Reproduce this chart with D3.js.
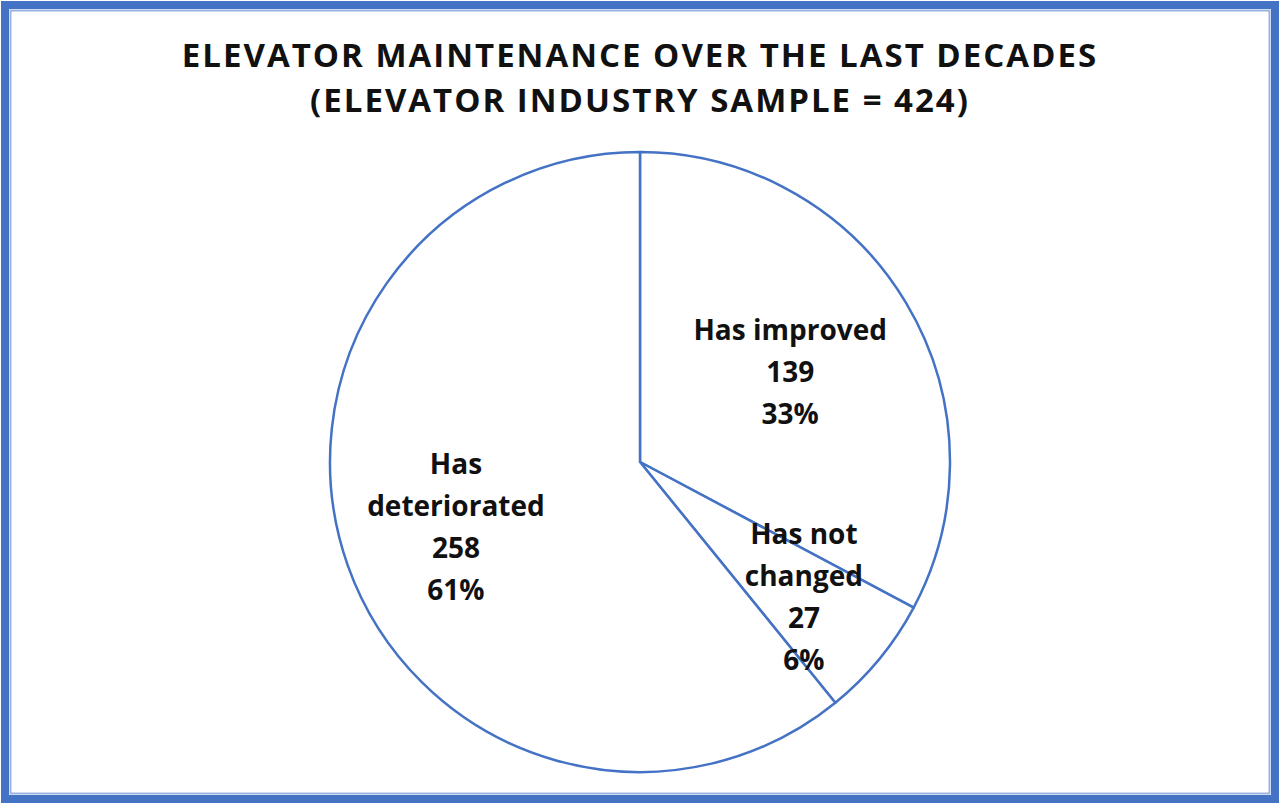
<!DOCTYPE html>
<html>
<head>
<meta charset="utf-8">
<script src="https://cdn.jsdelivr.net/npm/d3@7"></script>
<style>
  body { margin: 0; background: #fff; }
  svg { display: block; }
</style>
</head>
<body>
<script>
// chart data
var categories = ["Has improved", "Has not changed", "Has deteriorated"];
var counts = [139, 27, 258];
var percents = ["33%", "6%", "61%"];
var titleLines = ["ELEVATOR MAINTENANCE OVER THE LAST DECADES", "(ELEVATOR INDUSTRY SAMPLE = 424)"];

var w = 1280, h = 804;
var blue = "#4472C4";
var cx = 640, cy = 462, r = 310;
// where each label sits, as a share of the radius
var labelPos = [0.565, 0.685, 0.63];

var svg = d3.select("body").append("svg")
    .attr("width", w)
    .attr("height", h);

// frame
svg.append("rect")
    .attr("x", 5).attr("y", 5)
    .attr("width", w - 10).attr("height", h - 10)
    .attr("fill", "none")
    .attr("stroke", blue)
    .attr("stroke-width", 8);
svg.append("rect")
    .attr("x", 10.5).attr("y", 10.5)
    .attr("width", w - 21).attr("height", h - 21)
    .attr("fill", "none")
    .attr("stroke", "#9bb3e0")
    .attr("stroke-width", 2);

// title
svg.selectAll("text.title")
    .data(titleLines)
    .enter()
    .append("text")
    .attr("class", "title")
    .attr("x", w / 2)
    .attr("y", function(d, i) { return 67 + i * 45; })
    .attr("text-anchor", "middle")
    .style("font-family", "'Open Sans', sans-serif")
    .style("font-weight", "bold")
    .style("font-size", "33px")
    .style("letter-spacing", "2px")
    .attr("fill", "#111")
    .text(function(d) { return d; });

var pie = d3.pie().sort(null).value(function(d) { return d; });
var arcs = pie(counts);
var arc = d3.arc().innerRadius(0).outerRadius(r);

var g = svg.append("g")
    .attr("transform", "translate(" + cx + "," + cy + ")");

g.selectAll("path")
    .data(arcs)
    .enter()
    .append("path")
    .attr("d", arc)
    .attr("fill", "#fff")
    .attr("stroke", blue)
    .attr("stroke-width", 2.5)
    .attr("stroke-linejoin", "round");

// labels
arcs.forEach(function(a, i) {
    var la = d3.arc().innerRadius(r * labelPos[i]).outerRadius(r * labelPos[i]);
    var c = la.centroid(a);
    var words = categories[i] == "Has deteriorated" ? ["Has", "deteriorated"] :
                categories[i] == "Has not changed" ? ["Has not", "changed"] : [categories[i]];
    var lines = words.concat([String(counts[i]), percents[i]]);
    var lh = 42;
    var t = g.append("text")
        .attr("text-anchor", "middle")
        .style("font-family", "'Open Sans', sans-serif")
        .style("font-weight", "bold")
        .style("font-size", "28px")
        .attr("fill", "#111");
    lines.forEach(function(l, j) {
        t.append("tspan")
            .attr("x", c[0])
            .attr("y", c[1] + (j - (lines.length - 1) / 2) * lh + 10)
            .text(l);
    });
});
</script>
</body>
</html>
